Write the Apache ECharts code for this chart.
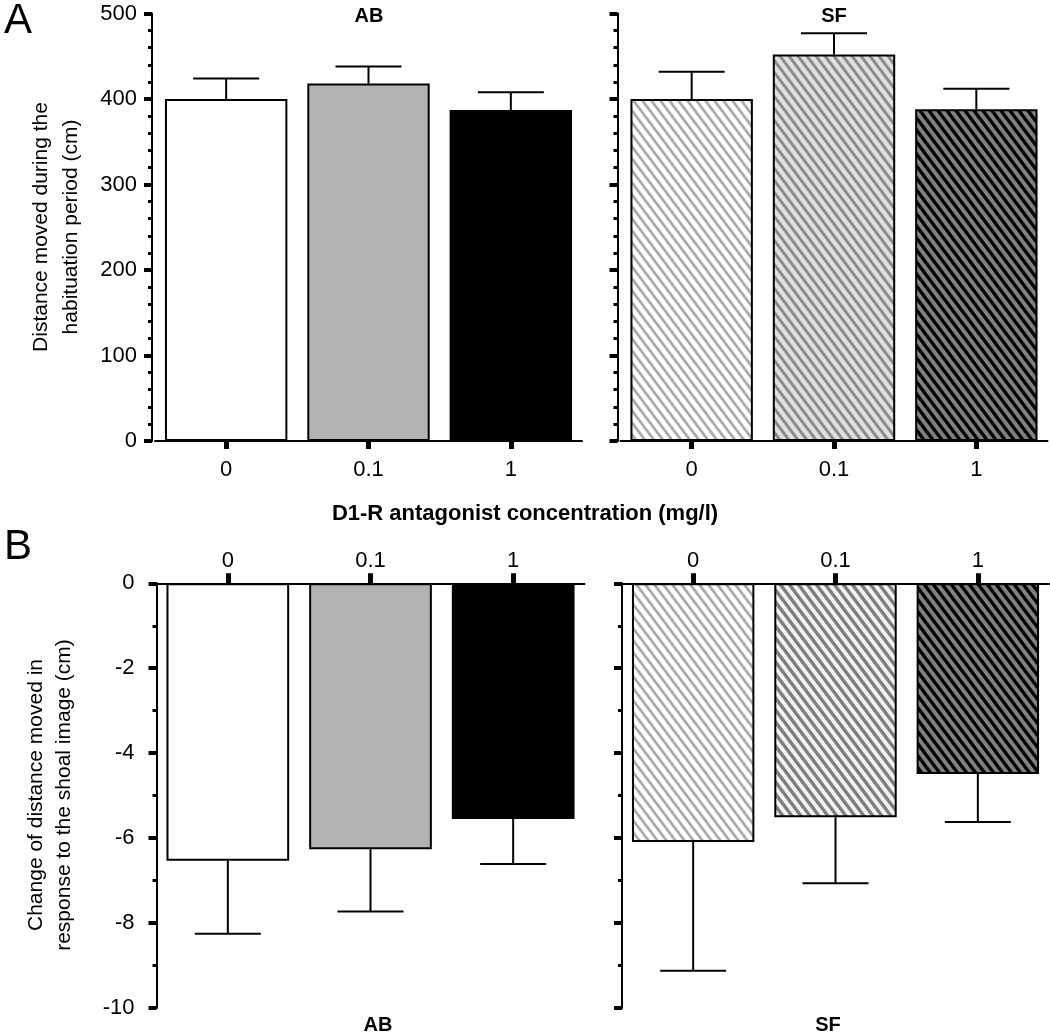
<!DOCTYPE html>
<html>
<head>
<meta charset="utf-8">
<script src="https://cdn.jsdelivr.net/npm/echarts@6/dist/echarts.min.js"></script>
<style>
html,body{margin:0;padding:0;background:#fff;}
#chart{width:1050px;height:1035px;}
</style>
</head>
<body>
<div id="chart"></div>
<script>
// ---- data ----
var categories = ['0', '0.1', '1'];
var habituationAB = [400, 418, 387];
var habituationAB_sem = [24, 20, 21];
var habituationSF = [400, 452, 388];
var habituationSF_sem = [32, 25, 24];
var shoalAB = [-6.53, -6.26, -5.55];
var shoalAB_sem = [1.72, 1.47, 1.06];
var shoalSF = [-6.09, -5.51, -4.49];
var shoalSF_sem = [3.03, 1.55, 1.13];
var groupLabels = ['AB', 'SF'];
var xTitle = 'D1-R antagonist concentration (mg/l)';
var yTitleA = ['Distance moved during the', 'habituation period (cm)'];
var yTitleB = ['Change of distance moved in', 'response to the shoal image (cm)'];

// ---- styles ----
var FONT = '"Liberation Sans", Arial, sans-serif';
function hatch(bg, fg, lw) {
  var w = 9, h = 12;
  var c = document.createElement('canvas');
  c.width = w; c.height = h;
  var ctx = c.getContext('2d');
  ctx.fillStyle = bg; ctx.fillRect(0, 0, w, h);
  ctx.strokeStyle = fg; ctx.lineWidth = lw; ctx.lineCap = 'square';
  [-w, 0, w].forEach(function (dx) {
    ctx.beginPath(); ctx.moveTo(dx, 0); ctx.lineTo(dx + w, h); ctx.stroke();
  });
  return { image: c, repeat: 'repeat' };
}
var fillsAB = ['#ffffff', '#b3b3b3', '#000000'];
var fillsSFA = [hatch('#ffffff', '#ababab', 2.8), hatch('#e0e0e0', '#8c8c8c', 3), hatch('#808080', '#000000', 3.4)];
var fillsSFB = [hatch('#ffffff', '#ababab', 2.8), hatch('#f2f2f2', '#7e7e7e', 3.4), hatch('#808080', '#000000', 3.4)];

function barData(vals, fills) {
  return vals.map(function (v, i) {
    return { value: v, itemStyle: { color: fills[i], borderColor: '#000', borderWidth: 2 } };
  });
}
function errData(vals, sems, dir) {
  return vals.map(function (v, i) { return [i, v, v + dir * sems[i]]; });
}
function errRender(params, api) {
  var p0 = api.coord([api.value(0), api.value(1)]);
  var p1 = api.coord([api.value(0), api.value(2)]);
  var hw = 33;
  return {
    type: 'group',
    children: [
      { type: 'line', shape: { x1: p0[0], y1: p0[1], x2: p1[0], y2: p1[1] }, style: { stroke: '#000', lineWidth: 2 } },
      { type: 'line', shape: { x1: p1[0] - hw, y1: p1[1], x2: p1[0] + hw, y2: p1[1] }, style: { stroke: '#000', lineWidth: 2 } }
    ]
  };
}

var grids = [
  { left: 155, top: 13.5, width: 427, height: 427.5 },
  { left: 620.5, top: 13.5, width: 427, height: 427.5 },
  { left: 156.5, top: 583.3, width: 428, height: 424.7 },
  { left: 622, top: 583.3, width: 427, height: 424.7 }
];

function xAxisDef(gi, pos, showLabel, tickLen, margin) {
  return {
    type: 'category', gridIndex: gi, data: categories, position: pos,
    axisLine: { show: true, lineStyle: { color: '#000', width: 2 } },
    axisTick: { show: true, alignWithLabel: true, length: tickLen, lineStyle: { color: '#000', width: 5 } },
    axisLabel: { show: showLabel, color: '#000', fontSize: 22, fontFamily: FONT, margin: margin },
    splitLine: { show: false }
  };
}
function yAxisDef(gi, min, max, interval, minorSplit, showLabel, offset, margin) {
  return {
    type: 'value', gridIndex: gi, min: min, max: max, interval: interval, offset: offset,
    axisLine: { show: true, lineStyle: { color: '#000', width: 2 } },
    axisTick: { show: true, length: 8, lineStyle: { color: '#000', width: 4 } },
    minorTick: { show: true, splitNumber: minorSplit, length: 4, lineStyle: { color: '#000', width: 3 } },
    axisLabel: { show: showLabel, color: '#000', fontSize: 22, fontFamily: FONT, margin: margin },
    splitLine: { show: false }
  };
}

var option = {
  backgroundColor: '#ffffff',
  animation: false,
  grid: grids,
  xAxis: [
    xAxisDef(0, 'bottom', true, 8, 18),
    xAxisDef(1, 'bottom', true, 8, 18),
    xAxisDef(2, 'top', true, 10, 11),
    xAxisDef(3, 'top', true, 10, 11)
  ],
  yAxis: [
    yAxisDef(0, 0, 500, 100, 5, true, 3, 15),
    yAxisDef(1, 0, 500, 100, 5, false, 3, 15),
    yAxisDef(2, -10, 0, 2, 2, true, 0, 22),
    yAxisDef(3, -10, 0, 2, 2, false, 0, 22)
  ],
  series: [
    { type: 'bar', xAxisIndex: 0, yAxisIndex: 0, barCategoryGap: '14%', data: barData(habituationAB, fillsAB) },
    { type: 'bar', xAxisIndex: 1, yAxisIndex: 1, barCategoryGap: '14%', data: barData(habituationSF, fillsSFA) },
    { type: 'bar', xAxisIndex: 2, yAxisIndex: 2, barCategoryGap: '14%', data: barData(shoalAB, fillsAB) },
    { type: 'bar', xAxisIndex: 3, yAxisIndex: 3, barCategoryGap: '14%', data: barData(shoalSF, fillsSFB) },
    { type: 'custom', xAxisIndex: 0, yAxisIndex: 0, renderItem: errRender, data: errData(habituationAB, habituationAB_sem, 1), z: 5 },
    { type: 'custom', xAxisIndex: 1, yAxisIndex: 1, renderItem: errRender, data: errData(habituationSF, habituationSF_sem, 1), z: 5 },
    { type: 'custom', xAxisIndex: 2, yAxisIndex: 2, renderItem: errRender, data: errData(shoalAB, shoalAB_sem, -1), z: 5 },
    { type: 'custom', xAxisIndex: 3, yAxisIndex: 3, renderItem: errRender, data: errData(shoalSF, shoalSF_sem, -1), z: 5 }
  ],
  graphic: []
};

function txt(text, x, y, font, rot) {
  return {
    type: 'text', x: x, y: y, rotation: rot || 0, z: 10,
    style: { text: text, font: font, fill: '#000', textAlign: 'center', textVerticalAlign: 'middle', align: 'center', verticalAlign: 'middle' }
  };
}
var R = Math.PI / 2;
option.graphic = [
  txt('A', 18, 21, '42px ' + FONT),
  txt('B', 18, 547, '42px ' + FONT),
  txt(groupLabels[0], 369, 16, 'bold 20px ' + FONT),
  txt(groupLabels[1], 834, 16, 'bold 20px ' + FONT),
  txt(groupLabels[0], 378, 1025, 'bold 20px ' + FONT),
  txt(groupLabels[1], 828, 1025, 'bold 20px ' + FONT),
  txt(xTitle, 525, 514, 'bold 22px ' + FONT),
  txt(yTitleA[0], 41, 227, '21px ' + FONT, R),
  txt(yTitleA[1], 71, 227, '21px ' + FONT, R),
  txt(yTitleB[0], 36, 795, '21px ' + FONT, R),
  txt(yTitleB[1], 64, 795, '21px ' + FONT, R)
];

var chart = echarts.init(document.getElementById('chart'), null, { renderer: 'canvas' });
chart.setOption(option);
</script>
</body>
</html>
